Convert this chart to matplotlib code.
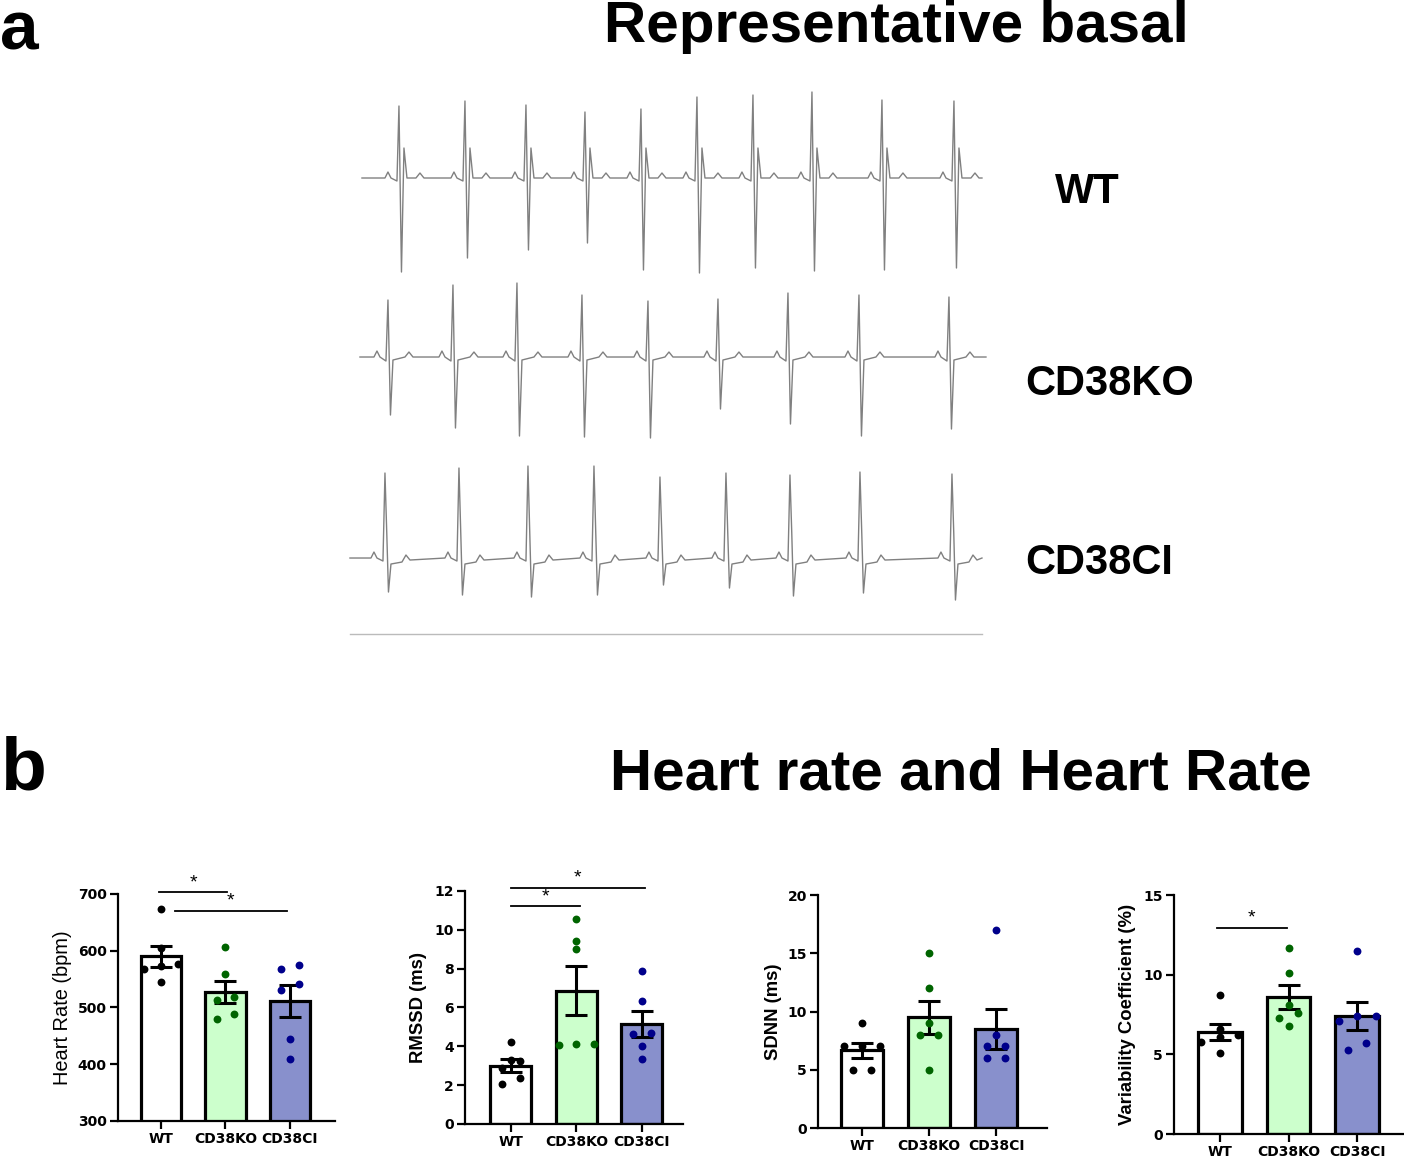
import numpy as np
import matplotlib.pyplot as plt

plt.rcParams['font.family'] = ['Liberation Sans', 'DejaVu Sans']

groups = ['WT', 'CD38KO', 'CD38CI']
bar_colors = ['white', '#ccffcc', '#8890cc']
dot_colors = ['black', '#006400', '#00008b']

# panel b data (one value per animal)
hr_wt = [674, 605, 568, 576, 573, 544]
hr_ko = [606, 559, 514, 518, 489, 480]
hr_ci = [568, 575, 531, 542, 444, 410]

rmssd_wt = [4.2, 3.3, 3.25, 2.9, 2.35, 2.05]
rmssd_ko = [10.55, 9.4, 9.0, 4.05, 4.1, 4.1]
rmssd_ci = [7.9, 6.35, 4.7, 4.65, 4.0, 3.35]

sdnn_wt = [9, 7, 7, 7, 5, 5]
sdnn_ko = [15, 12, 9, 8, 8, 5]
sdnn_ci = [17, 8, 7, 7, 6, 6]

cv_wt = [8.7, 5.8, 6.2, 6.6, 6.1, 5.1]
cv_ko = [11.7, 10.1, 8.1, 7.3, 7.6, 6.8]
cv_ci = [11.5, 7.1, 7.4, 7.4, 5.3, 5.7]

# panel a: R-peak times, R heights and S depths
wt_beats = [54, 120, 181, 240, 296, 352, 408, 467, 537, 609]
wt_r = [72, 77, 73, 66, 69, 81, 83, 86, 78, 77]
wt_s = [94, 80, 72, 65, 92, 95, 90, 93, 92, 90]

ko_beats = [43, 108, 172, 237, 303, 373, 443, 514, 604]
ko_r = [57, 72, 74, 62, 56, 58, 64, 62, 60]
ko_s = [58, 71, 79, 80, 81, 52, 67, 79, 72]

ci_beats = [40, 114, 183, 249, 315, 381, 445, 515, 607]
ci_r = [85, 90, 92, 92, 81, 85, 83, 86, 84]
ci_s = [34, 37, 39, 37, 27, 30, 38, 35, 42]


fig = plt.figure(figsize=(14.04, 11.58), dpi=100)

# ---------------- panel a ----------------
ax_ecg = fig.add_axes([0.2457, 0.4473, 0.4594, 0.4793])
ax_ecg.set_xlim(0, 645)
ax_ecg.set_ylim(-462, 93)
ax_ecg.axis('off')


def ecg_trace(beats, r, s, shape, t_start, t_end, base):
    t = [t_start]
    y = [0]
    for b, rh, sd in zip(beats, r, s):
        if shape == 'wt':
            tt = [b - 14, b - 11, b - 8, b - 2, b, b + 2.5, b + 5, b + 8, b + 17, b + 21, b + 25]
            yy = [0, 6, 0, -3, rh, -sd, 30, 0, 0, 5, 0]
        elif shape == 'ci':
            tt = [b - 14, b - 11, b - 8, b - 2, b, b + 1.8, b + 3.5, b + 6, b + 17, b + 21, b + 25]
            yy = [0, 6, 0, -3, rh, 25, -sd, -6, -4, 3, -2]
        else:
            tt = [b - 14, b - 11, b - 8, b - 2, b, b + 2.5, b + 5, b + 17, b + 21, b + 25]
            yy = [0, 6, 0, -4, rh, -sd, -3, 0, 5, 0]
        t += tt
        y += yy
    t.append(t_end)
    y.append(0)
    ax_ecg.plot(t, np.array(y) + base, color='#808080', lw=1.0)


ecg_trace(wt_beats, wt_r, wt_s, 'wt', 17, 637, 0)
ecg_trace(ko_beats, ko_r, ko_s, 'ko', 15, 641, -179)
ecg_trace(ci_beats, ci_r, ci_s, 'ci', 5, 637, -380)
ax_ecg.plot([5, 637], [-456, -456], color='#bbbbbb', lw=1)

fig.text(1055 / 1404, 1 - 192 / 1158, 'WT', fontsize=30, fontweight='bold', va='center')
fig.text(1025 / 1404, 1 - 384 / 1158, 'CD38KO', fontsize=30, fontweight='bold', va='center')
fig.text(1025 / 1404, 1 - 563 / 1158, 'CD38CI', fontsize=30, fontweight='bold', va='center')

fig.text(604 / 1404, 1 - 42 / 1158, 'Representative basal', fontsize=42,
         fontweight='bold', va='baseline')
fig.text(0.0, 1.0, 'a', fontsize=50, fontweight='bold', va='top')
fig.text(0.0, 1 - 790 / 1158, 'b', fontsize=54, fontweight='bold', va='baseline')
fig.text(610 / 1404, 1 - 790 / 1158, 'Heart rate and Heart Rate', fontsize=42,
         fontweight='bold', va='baseline')


# ---------------- panel b ----------------
def spread(vals, tol):
    order = np.argsort(vals)
    offs = np.zeros(len(vals))
    clusters = []
    for i in order:
        if clusters and vals[i] - vals[clusters[-1][0]] < tol:
            clusters[-1].append(i)
        else:
            clusters.append([i])
    for c in clusters:
        k = len(c)
        for n, i in enumerate(c):
            offs[i] = (n - (k - 1) / 2) * 0.27
    return offs


def bar_panel(rect, data, ylim, yticks, ylabel, xlim, sigs, label_x, label_bold=True):
    ax = fig.add_axes(rect)
    x = np.arange(3)
    means = [np.mean(d) for d in data]
    sems = [np.std(d, ddof=1) / np.sqrt(len(d)) for d in data]
    ax.bar(x, means, width=0.63, color=bar_colors, edgecolor='black', linewidth=2.3, zorder=1)
    ax.errorbar(x, means, yerr=sems, fmt='none', ecolor='black', elinewidth=2.2,
                capsize=8, capthick=2.2, zorder=2)
    tol = 0.03 * (ylim[1] - ylim[0])
    for i, d in enumerate(data):
        d = np.array(d, dtype=float)
        ax.scatter(i + spread(d, tol), d, s=32, color=dot_colors[i], zorder=3,
                   clip_on=False, linewidths=0)
    for x0, x1, y in sigs:
        ax.plot([x0, x1], [y, y], color='black', lw=1.3, clip_on=False)
        ax.text((x0 + x1) / 2, y + 0.004 * (ylim[1] - ylim[0]), '*', ha='center',
                va='bottom', fontsize=14)
    ax.set_xlim(xlim)
    ax.set_ylim(ylim)
    ax.set_yticks(yticks)
    ax.set_xticks(x)
    ax.set_xticklabels(groups, fontsize=10, fontweight='bold', family='DejaVu Sans')
    for lab in ax.get_yticklabels():
        lab.set_fontweight('bold')
        lab.set_fontsize(10)
        lab.set_family('DejaVu Sans')
    if label_bold:
        ax.set_ylabel(ylabel, fontsize=13.3, fontweight='bold')
    else:
        ax.set_ylabel(ylabel, fontsize=14.4)
    ax.yaxis.set_label_coords(label_x, 0.5)
    for side in ['top', 'right']:
        ax.spines[side].set_visible(False)
    for side in ['left', 'bottom']:
        ax.spines[side].set_linewidth(1.6)
    ax.tick_params(width=1.6, length=6, pad=2)
    return ax


bar_panel([0.0840, 0.0320, 0.1546, 0.1960], [hr_wt, hr_ko, hr_ci], (300, 700),
          [300, 400, 500, 600, 700], 'Heart Rate (bpm)', (-0.667, 2.70),
          [(-0.03, 1.03, 703.5), (0.22, 1.95, 670.6)], -0.212, label_bold=False)
bar_panel([0.3312, 0.0294, 0.1553, 0.2012], [rmssd_wt, rmssd_ko, rmssd_ci], (0, 12),
          [0, 2, 4, 6, 8, 10, 12], 'RMSSD (ms)', (-0.70, 2.63),
          [(0.0, 2.05, 12.17), (0.0, 1.05, 11.23)], -0.174)
bar_panel([0.5826, 0.0259, 0.1631, 0.2012], [sdnn_wt, sdnn_ko, sdnn_ci], (0, 20),
          [0, 5, 10, 15, 20], 'SDNN (ms)', (-0.66, 2.76), [], -0.157)
bar_panel([0.8362, 0.0207, 0.1631, 0.2064], [cv_wt, cv_ko, cv_ci], (0, 15),
          [0, 5, 10, 15], 'Variability Coefficient (%)', (-0.67, 2.67),
          [(-0.05, 0.98, 12.95)], -0.166)

fig.savefig('out.png', dpi=100)
